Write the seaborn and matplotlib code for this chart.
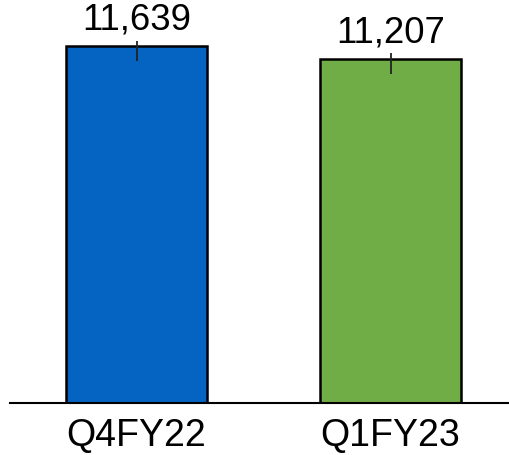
import pandas as pd
import seaborn as sns
import matplotlib.pyplot as plt

quarters = ['Q4FY22', 'Q1FY23']
values = [11639, 11207]
colors = ['#0563C1', '#70AD47']
# small marker line at each bar top (below / above)
err_below = [490, 490]
err_above = [165, 190]


def main():
    sns.set_style('white')
    plt.rcParams['font.family'] = ['Liberation Sans', 'DejaVu Sans']
    df = pd.DataFrame({'quarter': quarters, 'value': values})

    fig = plt.figure(figsize=(5.10, 4.55), dpi=100)
    ax = fig.add_axes([10 / 510, 52 / 455, 500 / 510, 403 / 455])
    sns.barplot(data=df, x='quarter', y='value', hue='quarter',
                palette=colors, saturation=1, width=0.555, edgecolor='black',
                linewidth=1.8, legend=False, ax=ax)
    ax.errorbar(range(len(values)), values, yerr=[err_below, err_above],
                fmt='none', ecolor='#222222', elinewidth=1.3, capsize=0)

    for i, v in enumerate(values):
        ax.annotate(f'{v:,}', (i, v), xytext=(0, 6.5), textcoords='offset points',
                    ha='center', va='bottom', fontsize=26.3, color='black')

    ax.set_xlim(-0.498, 1.47)
    ax.set_ylim(0, 13140)
    ax.set_xlabel('')
    ax.set_ylabel('')
    ax.set_yticks([])
    ax.tick_params(axis='x', length=0, pad=11, labelsize=27, labelcolor='black')
    for s in ['top', 'right', 'left']:
        ax.spines[s].set_visible(False)
    ax.spines['bottom'].set_color('black')
    ax.spines['bottom'].set_linewidth(1.5)
    fig.savefig('out.png', dpi=100)


if __name__ == '__main__':
    main()
